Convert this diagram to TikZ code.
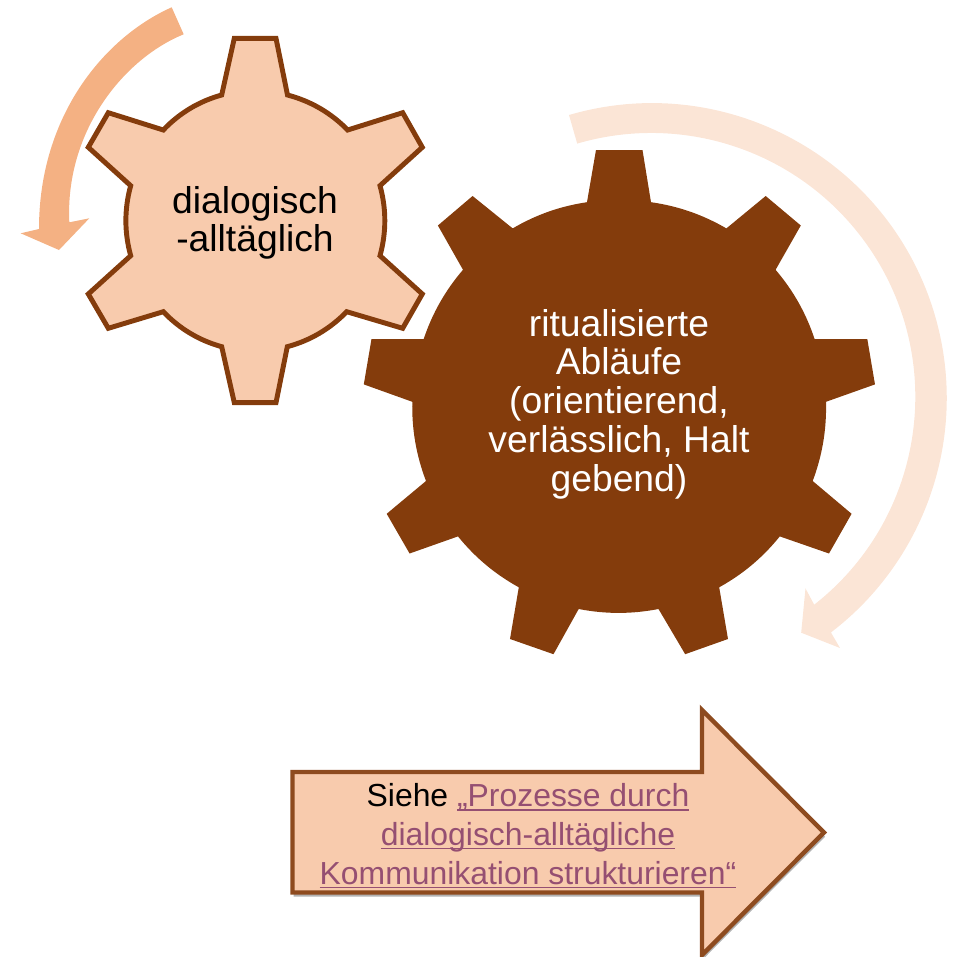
\documentclass[tikz,border=0pt]{standalone}
\usepackage{fontspec}
\setmainfont{Liberation Sans}
\usetikzlibrary{shadows}
\definecolor{gearbrown}{HTML}{843C0C}
\definecolor{gearpeach}{HTML}{F8CBAD}
\definecolor{swingmid}{HTML}{F4B183}
\definecolor{swinglight}{HTML}{FBE5D6}
\definecolor{linkpurple}{HTML}{954F72}
\newcommand{\linktext}[1]{\textcolor{linkpurple}{\setbox0=\hbox{#1}\rlap{\rule[-1.1pt]{\wd0}{0.45pt}}\box0}}
\begin{document}
\begin{tikzpicture}[x=0.01cm,y=-0.01cm,
      smallrim/.style={bend left=15.5,looseness=0.88},
      bigrim/.style={bend left=11,looseness=0.88},
      gearlabel/.style={align=center,font=\fontsize{10.6}{11}\selectfont},
      every path/.style={line join=miter}]
      \useasboundingbox (0,0) rectangle (959,957);

      \fill[swingmid] (171.7,7.3) .. controls (105,37) and (39,115) .. (39,229)
        -- (20.7,233.3) -- (59,250) -- (89.3,218.3) -- (69.3,222.3)
        .. controls (65,130) and (125,58) .. (183.7,34.3) -- cycle;

      \fill[swinglight] (569,115) arc[start angle=-106.3,end angle=52.6,radius=295]
        -- (840,648) -- (801.2,632.7) -- (805.5,588.4) -- (814.2,604.7)
        arc[start angle=51.9,end angle=-106.3,radius=264] -- cycle;

      \draw[gearbrown,line width=1.4pt,fill=gearpeach] (234.3,38.3) -- (276,38.3) -- (287.5,95)
        to[smallrim] (347.7,130) -- (402.7,112.7) -- (422.3,147.3) -- (380,185.7)
        to[smallrim] (380,255.7) -- (422.3,294) -- (402.7,328.3) -- (346.7,311.7)
        to[smallrim] (287.3,346.7) -- (276,402.7) -- (234.3,402.7) -- (221.7,346.7)
        to[smallrim] (163.3,311.7) -- (108.3,328.3) -- (88.3,294) -- (130.7,255.7)
        to[smallrim] (130.7,185.7) -- (88.3,147.3) -- (108.3,112.7) -- (163.3,130)
        to[smallrim] (221.7,95) -- cycle;

      \fill[gearbrown] (596,150) -- (642.5,150) -- (651,202.2)
        to[bigrim] (726.4,228.4) -- (765.7,196) -- (800.8,225.5) -- (775.6,269.8)
        to[bigrim] (814.6,339) -- (867.3,339) -- (875,384.4) -- (826,401.8)
        to[bigrim] (812.7,481) -- (851.6,513.8) -- (829,553.5) -- (779.8,536.4)
        to[bigrim] (719.2,587.3) -- (728,639) -- (685.2,654.2) -- (658.5,609)
        to[bigrim] (578.7,609) -- (553.5,654.2) -- (510,639) -- (518.8,587.3)
        to[bigrim] (458,536.4) -- (409.6,553.5) -- (386.7,513.8) -- (426,481)
        to[bigrim] (412.3,401.8) -- (363.8,384.4) -- (371.5,339) -- (423.7,339)
        to[bigrim] (463,269.8) -- (437.9,225.5) -- (472.6,196) -- (512.7,228.4)
        to[bigrim] (587,202.2) -- cycle;

      \draw[gearbrown!92!white,line width=1.25pt,fill=gearpeach,
          drop shadow={shadow xshift=0.3pt,shadow yshift=-1.2pt,opacity=0.3,fill=black}]
        (292.5,772) -- (702,772) -- (702,710) -- (824,832.5)
        -- (702,955) -- (702,892.5) -- (292.5,892.5) -- cycle;

      \node[gearlabel] (dialog) at (255,223) {dialogisch\\-alltäglich};
      \node[gearlabel,text=white] (ritual) at (619,404) {ritualisierte\\Abläufe\\(orientierend,\\verlässlich, Halt\\gebend)};
      \node[align=center,font=\fontsize{9.07}{11}\selectfont] (siehe) at (528,836)
        {Siehe \linktext{„Prozesse durch}\\
         \linktext{dialogisch-alltägliche}\\
         \linktext{Kommunikation strukturieren“}};
    \end{tikzpicture}
\end{document}
